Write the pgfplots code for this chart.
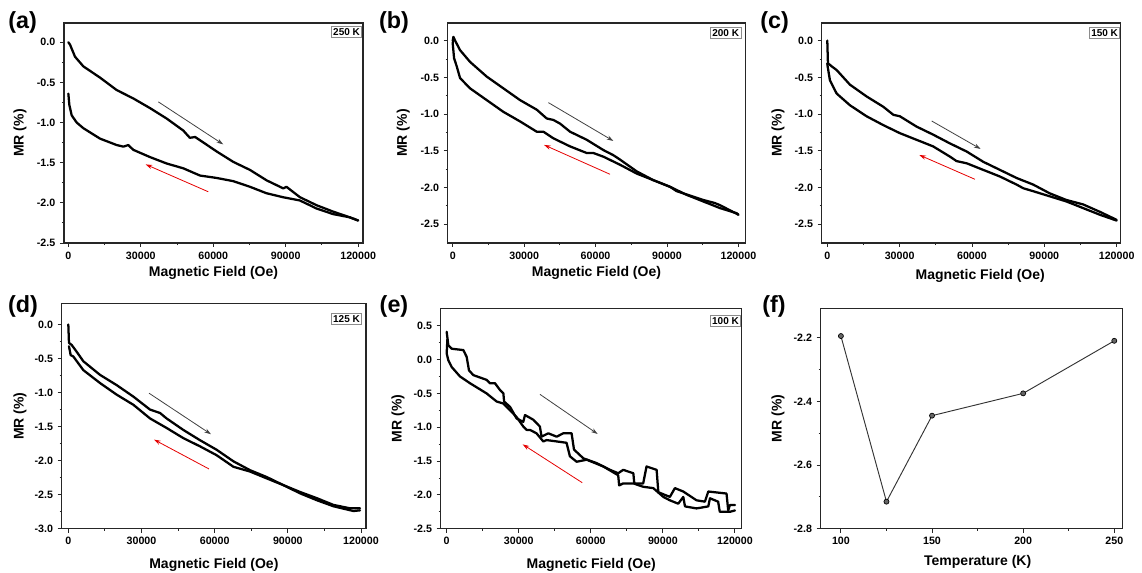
\documentclass[border=0pt]{standalone}
\usepackage{fontspec}
\setmainfont{Liberation Sans}
\usepackage{pgfplots}
\pgfplotsset{compat=1.18}
\usetikzlibrary{arrows.meta}

\pgfplotsset{
  mrpanel/.style={
    scale only axis,
    anchor=south west,
    axis line style={line width=0.8pt, black!85},
    tick align=outside,
    tick pos=left,
    major tick length=3pt,
    minor tick length=1.6pt,
    every tick/.style={black!85, line width=0.7pt},
    tick label style={font=\fontsize{8}{9.5}\selectfont\bfseries},
    label style={font=\fontsize{10.5}{12}\selectfont\bfseries},
    /pgf/number format/assume math mode=true,
    scaled ticks=false,
    xticklabel style={/pgf/number format/fixed, /pgf/number format/1000 sep={}},
    yticklabel style={/pgf/number format/fixed, /pgf/number format/fixed zerofill, /pgf/number format/precision=1},
    minor x tick num=1, minor y tick num=1,
    ylabel={MR (\%)},
  },
  field/.style={mrpanel, xlabel={Magnetic Field (Oe)}, xtick={0,30000,60000,90000,120000}},
}
\tikzset{
  curve/.style={black, line width=1.7pt, line join=round, line cap=round},
  upar/.style={black!75, line width=0.6pt, -{Stealth[length=5pt,width=3.2pt]}},
  dnar/.style={red!90!black, line width=0.6pt, -{Stealth[length=5pt,width=3.2pt]}},
  tbox/.style={draw=black!45, line width=0.5pt, fill=white, inner sep=1.4pt, anchor=north east, font=\fontsize{7.5}{9}\selectfont\bfseries},
  plab/.style={font=\fontsize{17.5}{20}\selectfont\bfseries},
}

\begin{document}
\begin{tikzpicture}
\useasboundingbox (0,0) rectangle (856.5pt,429.75pt);

% (a) 250 K
\begin{axis}[field, at={(48pt,247.5pt)}, width=224.25pt, height=165pt,
  xmin=-1800, xmax=122000, ymin=-2.5, ymax=0.24,
  ytick={-2.5,-2,-1.5,-1,-0.5,0},
  xlabel style={at={(axis description cs:0.5,-0.136)}, anchor=center},
  ylabel style={at={(axis description cs:-0.147,0.5)}, anchor=center}]
\addplot[curve] coordinates {(0,0)(700,-0.03)(2760,-0.18)(6200,-0.30)(9650,-0.37)(13100,-0.44)(20000,-0.595)(26900,-0.70)(33800,-0.82)(40700,-0.95)(47600,-1.10)(50300,-1.19)(52500,-1.18)(55000,-1.23)(61400,-1.36)(68300,-1.49)(75200,-1.59)(82100,-1.72)(89000,-1.82)(90300,-1.80)(95900,-1.93)(102800,-2.03)(109700,-2.11)(116500,-2.18)(120000,-2.22)};
\addplot[curve] coordinates {(120000,-2.22)(116500,-2.18)(109600,-2.14)(102700,-2.07)(100000,-2.03)(95800,-1.97)(88900,-1.93)(82000,-1.88)(75200,-1.80)(68300,-1.73)(61400,-1.69)(54500,-1.66)(47600,-1.57)(40700,-1.51)(33800,-1.43)(26900,-1.34)(24800,-1.28)(22800,-1.30)(20000,-1.28)(13100,-1.20)(6200,-1.07)(3450,-1.00)(1380,-0.91)(410,-0.78)(0,-0.64)};
\draw[upar] (axis cs:37240,-0.742) -- (axis cs:64140,-1.272);
\draw[dnar] (axis cs:57930,-1.862) -- (axis cs:32000,-1.521);
\node[tbox] at (rel axis cs:0.997,0.986) {250 K};
\end{axis}

% (b) 200 K
\begin{axis}[field, at={(335.8pt,247.5pt)}, width=223pt, height=165pt,
  xmin=-2100, xmax=122800, ymin=-2.755, ymax=0.24,
  ytick={-2.5,-2,-1.5,-1,-0.5,0},
  xlabel style={at={(axis description cs:0.5,-0.136)}, anchor=center},
  ylabel style={at={(axis description cs:-0.150,0.5)}, anchor=center}]
\addplot[curve] coordinates {(0,0.0)(300,0.05)(1000,0.0)(3080,-0.13)(7280,-0.29)(14280,-0.49)(21280,-0.65)(28280,-0.81)(35280,-0.94)(39480,-1.06)(42280,-1.08)(45080,-1.13)(49280,-1.24)(56280,-1.35)(63280,-1.49)(67480,-1.56)(70280,-1.62)(77280,-1.78)(84280,-1.90)(91280,-1.99)(98280,-2.10)(105280,-2.19)(112280,-2.28)(119300,-2.35)(120000,-2.37)};
\addplot[curve] coordinates {(120000,-2.37)(112280,-2.24)(110000,-2.21)(105280,-2.17)(96880,-2.08)(94080,-2.05)(91280,-1.99)(84280,-1.90)(77280,-1.81)(70280,-1.69)(63280,-1.58)(59080,-1.53)(56280,-1.53)(49280,-1.44)(42280,-1.33)(38080,-1.24)(35280,-1.24)(28280,-1.10)(21280,-0.97)(14280,-0.81)(7280,-0.65)(3080,-0.51)(1680,-0.35)(560,-0.24)(0,-0.04)(280,0.05)};
\draw[upar] (axis cs:40170,-0.844) -- (axis cs:67480,-1.366);
\draw[dnar] (axis cs:66090,-1.820) -- (axis cs:38360,-1.420);
\node[tbox] at (rel axis cs:0.987,0.982) {200 K};
\end{axis}

% (c) 150 K
\begin{axis}[field, at={(616.3pt,247.5pt)}, width=224.25pt, height=165pt,
  xmin=-2300, xmax=121700, ymin=-2.755, ymax=0.24,
  ytick={-2.5,-2,-1.5,-1,-0.5,0},
  xlabel style={at={(axis description cs:0.53,-0.15)}, anchor=center},
  ylabel style={at={(axis description cs:-0.146,0.5)}, anchor=center}]
\addplot[curve] coordinates {(0,0.0)(276,-0.31)(1100,-0.33)(1800,-0.35)(3870,-0.40)(9400,-0.60)(16300,-0.76)(23200,-0.90)(27400,-1.01)(30100,-1.03)(37000,-1.17)(43900,-1.28)(50900,-1.40)(57800,-1.51)(64700,-1.65)(71600,-1.76)(78500,-1.87)(85400,-1.96)(92300,-2.08)(99200,-2.17)(106100,-2.23)(113000,-2.33)(120000,-2.44)};
\addplot[curve] coordinates {(120000,-2.45)(113000,-2.37)(106100,-2.28)(99200,-2.19)(92300,-2.12)(85400,-2.05)(81300,-2.01)(78500,-1.96)(71600,-1.85)(64700,-1.76)(57800,-1.67)(53600,-1.64)(50900,-1.58)(43900,-1.44)(37000,-1.35)(30100,-1.26)(23200,-1.15)(16300,-1.03)(9400,-0.88)(3870,-0.72)(1100,-0.54)(138,-0.35)(0,-0.31)};
\draw[upar] (axis cs:43290,-1.094) -- (axis cs:63600,-1.475);
\draw[dnar] (axis cs:61240,-1.888) -- (axis cs:38150,-1.557);
\node[tbox] at (rel axis cs:0.998,0.982) {150 K};
\end{axis}

% (d) 125 K
\begin{axis}[field, at={(46.3pt,33.2pt)}, width=228.2pt, height=169pt,
  xmin=-2700, xmax=122050, ymin=-3.0, ymax=0.31,
  ytick={-3,-2.5,-2,-1.5,-1,-0.5,0},
  xlabel style={at={(axis description cs:0.5,-0.161)}, anchor=center},
  ylabel style={at={(axis description cs:-0.137,0.5)}, anchor=center}]
\addplot[curve] coordinates {(0,0.0)(270,-0.27)(1370,-0.30)(3420,-0.40)(6150,-0.54)(13000,-0.74)(19800,-0.89)(26700,-1.06)(33500,-1.25)(37600,-1.30)(40300,-1.38)(47200,-1.55)(54000,-1.70)(60800,-1.84)(67700,-2.01)(74500,-2.14)(81300,-2.24)(88200,-2.36)(95000,-2.46)(101800,-2.55)(108700,-2.65)(115500,-2.70)(119600,-2.70)};
\addplot[curve] coordinates {(119600,-2.73)(116900,-2.74)(108700,-2.67)(101800,-2.58)(95000,-2.48)(88200,-2.36)(81300,-2.26)(74500,-2.16)(67700,-2.09)(60800,-1.92)(54000,-1.79)(47200,-1.67)(40300,-1.52)(33500,-1.38)(26700,-1.18)(19800,-1.03)(13000,-0.86)(6150,-0.67)(2050,-0.47)(960,-0.45)(270,-0.32)};
\draw[upar] (axis cs:33080,-1.009) -- (axis cs:58500,-1.612);
\draw[dnar] (axis cs:57680,-2.122) -- (axis cs:35130,-1.691);
\node[tbox] at (rel axis cs:0.987,0.957) {125 K};
\end{axis}

% (e) 100 K
\begin{axis}[field, at={(330.5pt,33.2pt)}, width=225.75pt, height=165.3pt,
  xmin=-2500, xmax=122800, ymin=-2.5, ymax=0.757,
  ytick={-2.5,-2,-1.5,-1,-0.5,0,0.5},
  xlabel style={at={(axis description cs:0.5,-0.165)}, anchor=center},
  ylabel style={at={(axis description cs:-0.142,0.5)}, anchor=center}]
\addplot[curve] coordinates {(0,0.41)(690,0.21)(2080,0.16)(6940,0.14)(8320,0.04)(9290,-0.16)(11100,-0.23)(16600,-0.30)(18000,-0.35)(20100,-0.35)(22200,-0.45)(23600,-0.50)(23900,-0.62)(26400,-0.70)(29100,-0.87)(31900,-0.92)(32600,-0.82)(36100,-0.89)(38800,-0.99)(39500,-1.14)(42300,-1.09)(45800,-1.14)(48500,-1.09)(52000,-1.09)(53000,-1.33)(56900,-1.46)(62400,-1.53)(68000,-1.63)(71400,-1.68)(73500,-1.63)(77700,-1.68)(78100,-1.83)(81800,-1.83)(83200,-1.58)(87400,-1.63)(88100,-1.96)(92900,-2.03)(95000,-1.90)(98500,-1.95)(104000,-2.08)(107500,-2.10)(108900,-1.95)(116500,-1.98)(117200,-2.23)(117900,-2.15)(120000,-2.15)};
\addplot[curve] coordinates {(120000,-2.23)(117900,-2.25)(113700,-2.25)(113000,-2.10)(109600,-2.05)(108900,-2.17)(104000,-2.20)(99200,-2.17)(98500,-2.03)(96400,-2.13)(92900,-2.08)(90200,-2.03)(86000,-1.90)(81800,-1.88)(77700,-1.83)(73500,-1.83)(71800,-1.86)(71400,-1.71)(65200,-1.58)(58300,-1.48)(54100,-1.51)(51300,-1.43)(49900,-1.23)(45800,-1.21)(41600,-1.19)(40200,-1.21)(37400,-1.09)(34700,-1.04)(33300,-1.04)(31900,-0.99)(29100,-0.85)(26400,-0.75)(23600,-0.65)(20800,-0.62)(16600,-0.50)(9710,-0.35)(5550,-0.25)(2080,-0.11)(690,-0.01)(0,0.09)(300,0.30)};
\draw[upar] (axis cs:38830,-0.514) -- (axis cs:62850,-1.100);
\draw[dnar] (axis cs:56440,-1.820) -- (axis cs:31630,-1.253);
\node[tbox] at (rel axis cs:0.998,0.970) {100 K};
\end{axis}

% (f) MR vs temperature
\begin{axis}[mrpanel, at={(615.5pt,33.2pt)}, width=226.5pt, height=165.3pt,
  xmin=88.9, xmax=254.6, ymin=-2.8, ymax=-2.108,
  xtick={100,150,200,250}, ytick={-2.8,-2.6,-2.4,-2.2},
  xlabel={Temperature (K)},
  xlabel style={at={(axis description cs:0.52,-0.15)}, anchor=center},
  ylabel style={at={(axis description cs:-0.141,0.5)}, anchor=center}]
\addplot[black!80, line width=0.7pt, mark=*, mark size=1.9pt, mark options={fill=black!60, draw=black, line width=0.5pt}]
  coordinates {(100,-2.195)(125,-2.715)(150,-2.445)(200,-2.375)(250,-2.21)};
\end{axis}

\node[plab] at (16.9pt,412.9pt) {(a)};
\node[plab] at (295.5pt,413.25pt) {(b)};
\node[plab] at (580.9pt,413.25pt) {(c)};
\node[plab] at (17.25pt,200.25pt) {(d)};
\node[plab] at (295.5pt,200.25pt) {(e)};
\node[plab] at (580.5pt,200.25pt) {(f)};
\end{tikzpicture}
\end{document}
